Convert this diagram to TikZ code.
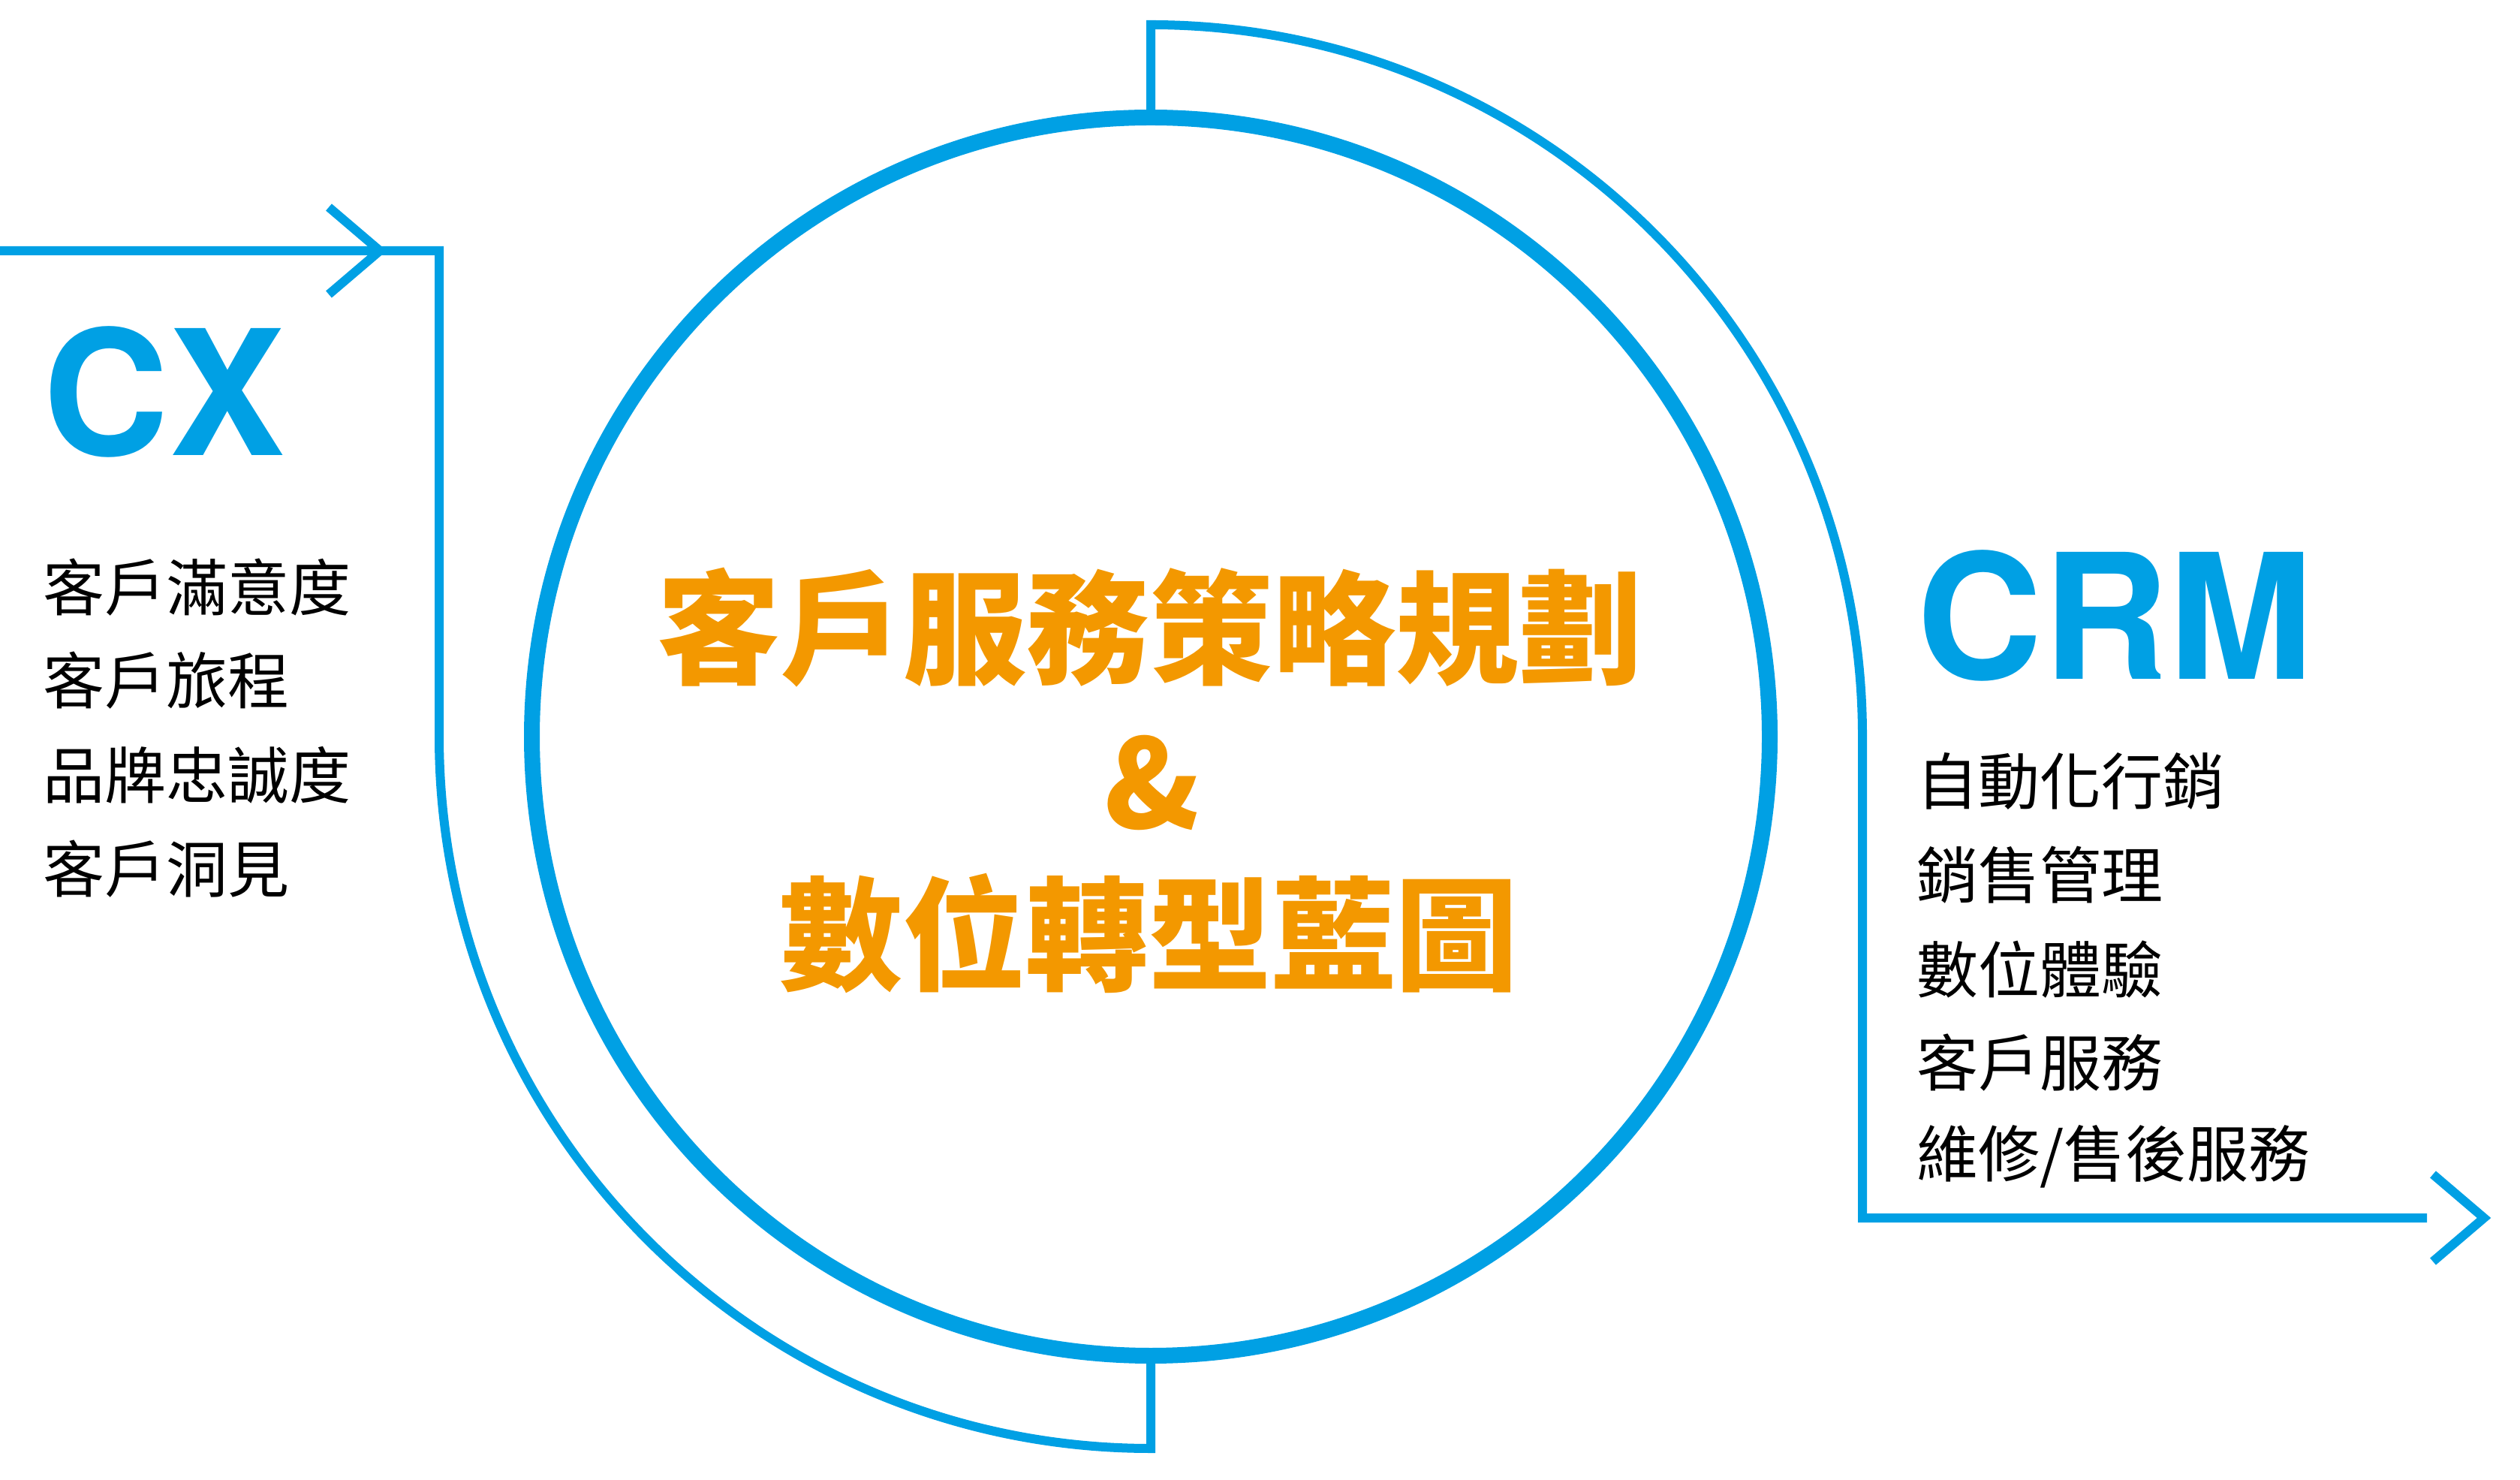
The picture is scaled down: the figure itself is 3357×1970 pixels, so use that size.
\documentclass[tikz,border=0pt]{standalone}
\usepackage{fontspec}
\usetikzlibrary{calc}
\newfontfamily\cjk{Noto Sans CJK TC}
\newfontfamily\heros{TeX Gyre Heros}
\definecolor{cblue}{RGB}{0,160,228}
\definecolor{corange}{RGB}{243,152,0}
\tikzset{
  ring/.style={draw=cblue,line width=5.25pt},
  flow/.style={draw=cblue,line width=3pt,line join=miter,line cap=butt},
  bigtitle/.style={font=\heros\bfseries\fontsize{58}{60}\selectfont,text=cblue,inner sep=0pt,anchor=west},
  item/.style={font=\cjk\fontsize{20.5}{22}\selectfont,text=black,inner sep=0pt,anchor=west},
  center text/.style={font=\cjk\bfseries\fontsize{41}{44}\selectfont,text=corange,inner sep=0pt,anchor=center}
}
\begin{document}
\begin{tikzpicture}[x=0.25pt,y=0.25pt]
\useasboundingbox (0,0) rectangle (3357,1970);
% geometry
\coordinate (c) at (1533,989);
\coordinate (ringtop) at (1533,1814.5);
\coordinate (ringbot) at (1533,163.5);
\coordinate (outtop) at (1533,1937);
\coordinate (outbot) at (1533,41);
\coordinate (lstart) at (0,1636);
\coordinate (lcorner) at (585,1636);
\coordinate (lside) at (585,989);
\coordinate (rside) at (2481,989);
\coordinate (rcorner) at (2481,348);
\coordinate (rend) at (3233,348);
\coordinate (ltip) at (506,1636);
\coordinate (rtip) at (3309,348);
% central ring
\draw[ring] (c) circle[radius=824.5];
% left flow: into the ring from below
\draw[flow] (lstart) -- (lcorner) -- (lside) arc[start angle=180,end angle=270,radius=948] -- (ringbot);
\draw[flow] ($(ltip)+(-68,58)$) -- (ltip) -- ($(ltip)+(-68,-58)$);
% right flow: out of the ring from top
\draw[flow] (ringtop) -- (outtop) arc[start angle=90,end angle=0,radius=948] -- (rcorner) -- (rend);
\draw[flow] ($(rtip)+(-68,58)$) -- (rtip) -- ($(rtip)+(-68,-58)$);
% headings
\node[bigtitle] (cx) at (57,1448) {CX};
\node[bigtitle] (crm) at (2553,1150) {CRM};
% left list
\node[item] (l1) at (57,1188) {客戶滿意度};
\node[item] (l2) at (57,1064) {客戶旅程};
\node[item] (l3) at (57,938) {品牌忠誠度};
\node[item] (l4) at (57,813) {客戶洞見};
% right list
\node[item] (r1) at (2553,930) {自動化行銷};
\node[item] (r2) at (2553,805) {銷售管理};
\node[item] (r3) at (2553,679) {數位體驗};
\node[item] (r4) at (2553,555) {客戶服務};
\node[item] (r5) at (2553,430) {維修/售後服務};
% center text
\node[center text] (t1) at (1531,1134) {客戶服務策略規劃};
\node[center text] (amp) at (1535,928) {\&};
\node[center text] (t2) at (1530,727) {數位轉型藍圖};
\end{tikzpicture}
\end{document}
